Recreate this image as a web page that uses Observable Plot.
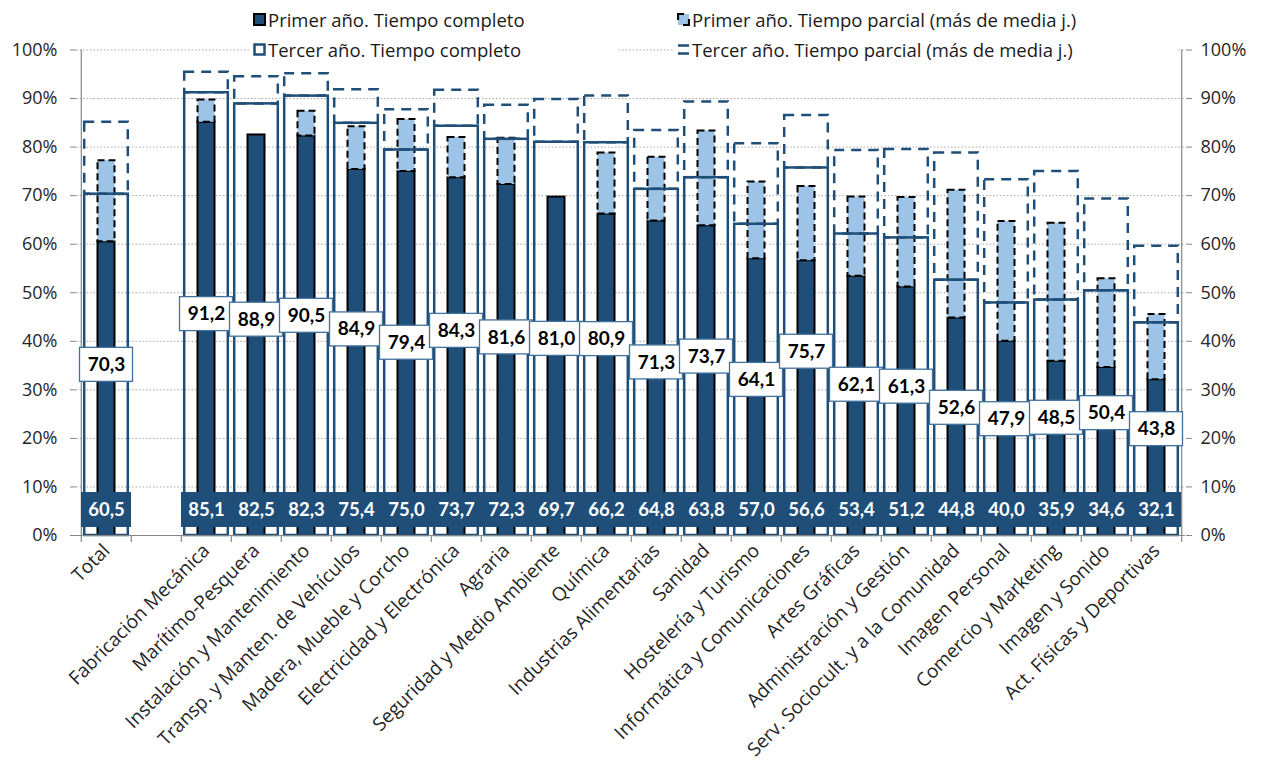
<!DOCTYPE html>
<html><head><meta charset="utf-8">
<script src="https://cdn.jsdelivr.net/npm/d3@7"></script>
<script src="https://cdn.jsdelivr.net/npm/@observablehq/plot@0.6"></script>
<style>
body{margin:0;background:#fff;font-family:"Open Sans",Lato,sans-serif;}
#wrap{position:relative;width:1267px;height:762px;overflow:hidden;}
.leg{position:absolute;background:#fff;font-size:18.5px;color:#1a1a1a;top:4px;height:60px;}
.row{position:absolute;left:4px;height:26px;display:flex;align-items:center;white-space:nowrap;}
.row svg{margin-right:2px;}
</style></head><body>
<div id="wrap"><div id="chart"></div>
<div class="leg" style="left:249px;width:370px;">
 <div class="row" style="top:2px;"><svg width="13" height="13"><rect x="1" y="1" width="11" height="11" fill="#1F4E79" stroke="#000" stroke-width="2"/></svg>Primer año. Tiempo completo</div>
 <div class="row" style="top:32px;"><svg width="13" height="13"><rect x="1.5" y="1.5" width="10" height="10" fill="#fff" stroke="#1F4E79" stroke-width="2.5"/></svg>Tercer año. Tiempo completo</div>
</div>
<div class="leg" style="left:673px;width:505px;">
 <div class="row" style="top:2px;"><svg width="13" height="13"><rect x="1" y="1" width="11" height="11" fill="#9DC3E6"/><path d="M1 7V1H7M12 6V12H6" fill="none" stroke="#000" stroke-width="2.2"/></svg>Primer año. Tiempo parcial (más de media j.)</div>
 <div class="row" style="top:32px;"><svg width="13" height="13"><path d="M1 2.5H12M1 10.5H12" stroke="#1F4E79" stroke-width="2.5"/></svg>Tercer año. Tiempo parcial (más de media j.)</div>
</div>
</div>
<script>
const families = ["Total", "Fabricación Mecánica", "Marítimo-Pesquera", "Instalación y Mantenimiento", "Transp. y Manten. de Vehículos", "Madera, Mueble y Corcho", "Electricidad y Electrónica", "Agraria", "Seguridad y Medio Ambiente", "Química", "Industrias Alimentarias", "Sanidad", "Hostelería y Turismo", "Informática y Comunicaciones", "Artes Gráficas", "Administración y Gestión", "Serv. Sociocult. y a la Comunidad", "Imagen Personal", "Comercio y Marketing", "Imagen y Sonido", "Act. Físicas y Deportivas"];
const primerCompleto = [60.5, 85.1, 82.5, 82.3, 75.4, 75.0, 73.7, 72.3, 69.7, 66.2, 64.8, 63.8, 57.0, 56.6, 53.4, 51.2, 44.8, 40.0, 35.9, 34.6, 32.1];
const primerParcial = [16.7, 4.6, 0, 5.1, 8.8, 10.7, 8.3, 9.5, 0, 12.6, 13.1, 19.5, 15.8, 15.3, 16.3, 18.4, 26.3, 24.7, 28.4, 18.3, 13.4];
const tercerCompleto = [70.3, 91.2, 88.9, 90.5, 84.9, 79.4, 84.3, 81.6, 81.0, 80.9, 71.3, 73.7, 64.1, 75.7, 62.1, 61.3, 52.6, 47.9, 48.5, 50.4, 43.8];
const tercerParcial = [14.8, 4.2, 5.6, 4.6, 6.9, 8.3, 7.4, 7.0, 8.8, 9.6, 12.1, 15.6, 16.6, 10.8, 17.2, 18.2, 26.2, 25.4, 26.5, 18.9, 15.8];
const yTicks = [0, 10, 20, 30, 40, 50, 60, 70, 80, 90, 100];
const spacer = " ";

const xDomain = [families[0], spacer, ...families.slice(1)];
const rows = families.map((f, i) => ({
  f, pc: primerCompleto[i], pp: primerParcial[i], tc: tercerCompleto[i], tp: tercerParcial[i]
}));
const fmt = v => v.toFixed(1).replace(".", ",");
const W = 1267, ML = 76, MR = 82;
const bw = (W - ML - MR) / xDomain.length;
const blue = "#1F4E79";
const bold = "Lato, 'Open Sans', sans-serif";

const chart = Plot.plot({
  width: W, height: 762,
  marginLeft: ML, marginRight: MR, marginTop: 49.5, marginBottom: 227,
  x: {type: "band", domain: xDomain, padding: 0, axis: null, label: null},
  y: {domain: [0, 100], axis: null, label: null},
  style: {fontFamily: "'Open Sans', Lato, sans-serif", background: "white", overflow: "visible"},
  marks: [
    Plot.gridY(yTicks.slice(1), {stroke: "#A6A6A6", strokeOpacity: 1, strokeDasharray: "1.5,2"}),
    // Primer año
    Plot.barY(rows, {x: "f", y1: 0, y2: "pc", fill: blue, stroke: "#000", strokeWidth: 2, insetLeft: 16.5, insetRight: 16.5}),
    Plot.barY(rows.filter(d => d.pp > 0), {x: "f", y1: "pc", y2: d => d.pc + d.pp, fill: "#9DC3E6", stroke: "#000", strokeWidth: 2, strokeDasharray: "7,4", insetLeft: 16.5, insetRight: 16.5}),
    // Tercer año
    Plot.barY(rows, {x: "f", y1: "tc", y2: d => d.tc + d.tp, fill: "none", stroke: blue, strokeWidth: 2.5, strokeDasharray: "10,7", insetLeft: 3.2, insetRight: 3.2}),
    Plot.barY(rows, {x: "f", y1: 0, y2: "tc", fill: "none", stroke: blue, strokeWidth: 2.5, insetLeft: 3.2, insetRight: 3.2}),
    // axis lines
    Plot.ruleY([0], {stroke: "#868686", strokeWidth: 1.2}),
    Plot.ruleX([xDomain[0]], {x: d => d, dx: -bw / 2, stroke: "#868686", strokeWidth: 1.2}),
    Plot.ruleX([xDomain[xDomain.length - 1]], {x: d => d, dx: bw / 2, stroke: "#868686", strokeWidth: 1.2}),
    Plot.ruleX(xDomain, {x: d => d, dx: -bw / 2, y1: 0, y2: 0, insetBottom: -7, stroke: "#868686", strokeWidth: 1.2}),
    Plot.ruleX([xDomain[xDomain.length - 1]], {x: d => d, dx: bw / 2, y1: 0, y2: 0, insetBottom: -7, stroke: "#868686", strokeWidth: 1.2}),
    // Tercer completo labels
    Plot.barY(rows, {x: "f", y1: d => d.tc / 2 - 3.5, y2: d => d.tc / 2 + 3.5, fill: "white", stroke: "#41719C", strokeWidth: 1.3, insetLeft: -1.5, insetRight: -1.5}),
    Plot.text(rows, {x: "f", y: d => d.tc / 2, text: d => fmt(d.tc), fill: "#000", fontWeight: "bold", fontSize: 19, fontFamily: bold}),
    // Primer completo labels
    Plot.barY(rows, {x: "f", y1: 1.65, y2: 8.85, fill: blue}),
    Plot.text(rows, {x: "f", y: 5.25, text: d => fmt(d.pc), fill: "white", fontWeight: "bold", fontSize: 18.5, fontFamily: bold}),
    // axes
    Plot.axisY(yTicks, {anchor: "left", label: null, tickSize: 6, tickPadding: 13, tickFormat: d => d + "%", fontSize: 18, stroke: "#868686", fill: "#262626"}),
    Plot.axisY(yTicks, {anchor: "right", label: null, tickSize: 6, tickPadding: 9, tickFormat: d => d + "%", fontSize: 18, stroke: "#868686", fill: "#262626"}),
    Plot.axisX({label: null, tickSize: 0, tickPadding: 12, tickRotate: -45, fontSize: 19, fill: "#262626"})
  ]
});
document.getElementById("chart").appendChild(chart);
</script>
</body></html>
